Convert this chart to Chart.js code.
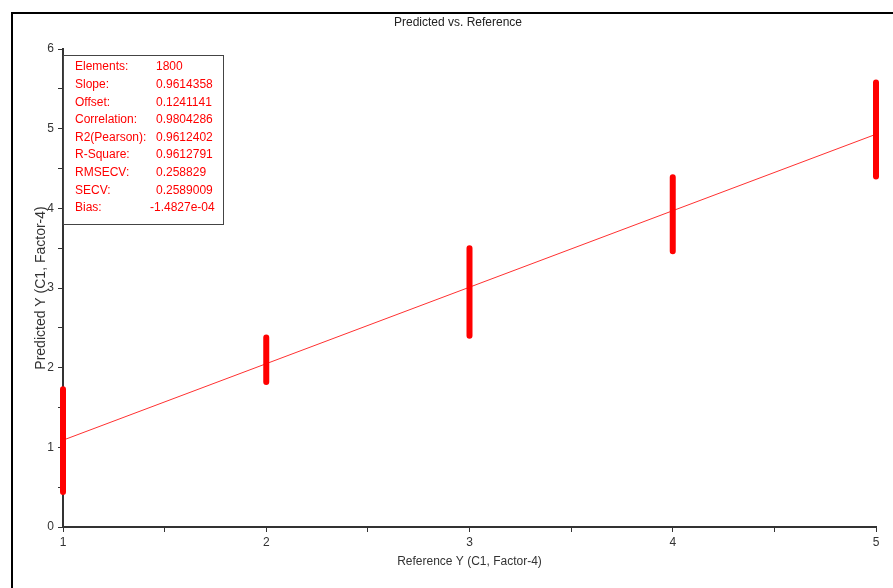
<!DOCTYPE html>
<html>
<head>
<meta charset="utf-8">
<script src="https://cdn.jsdelivr.net/npm/chart.js@4"></script>
<style>
  html, body { margin: 0; padding: 0; background: #fff; }
  #wrap { width: 893px; height: 588px; position: relative; }
</style>
</head>
<body>
<div id="wrap"><canvas id="chart" width="893" height="588"></canvas></div>
<script>
// reference values (x) and the spread of predicted values seen at each one
const refX = [1, 2, 3, 4, 5];
const predMin = [0.44, 1.82, 2.40, 3.46, 4.40];
const predMax = [1.73, 2.38, 3.50, 4.39, 5.58];

// regression line end points
const fitX = [1, 5];
const fitY = [1.09, 4.93];

const statLabels = ["Elements:", "Slope:", "Offset:", "Correlation:", "R2(Pearson):", "R-Square:", "RMSECV:", "SECV:", "Bias:"];
const statValues = ["1800", "0.9614358", "0.1241141", "0.9804286", "0.9612402", "0.9612791", "0.258829", "0.2589009", "-1.4827e-04"];

const chartTitle = "Predicted vs. Reference";

const FONT = "Liberation Sans, Arial, Helvetica, sans-serif";
const AXIS = "#333";

// one segment per reference value, broken with nulls
const columnPoints = [];
refX.forEach((x, i) => {
    columnPoints.push({ x: x, y: predMin[i] });
    columnPoints.push({ x: x, y: predMax[i] });
    columnPoints.push({ x: x, y: null });
});

const framePlugin = {
    id: "frame",
    beforeDraw(chart) {
        const ctx = chart.ctx;
        ctx.save();
        ctx.strokeStyle = "#000";
        ctx.lineWidth = 2;
        ctx.beginPath();
        ctx.moveTo(12, 588);
        ctx.lineTo(12, 13);
        ctx.lineTo(893, 13);
        ctx.stroke();
        ctx.fillStyle = "#222";
        ctx.font = "12px " + FONT;
        ctx.textAlign = "center";
        ctx.textBaseline = "middle";
        ctx.fillText(chartTitle, 458, 23);
        ctx.restore();
    }
};

const statsPlugin = {
    id: "stats",
    afterDraw(chart) {
        const ctx = chart.ctx;
        const left = chart.chartArea.left;
        ctx.save();
        ctx.fillStyle = "#fff";
        ctx.fillRect(left + 1, 55, 159, 169);
        ctx.strokeStyle = "#444";
        ctx.lineWidth = 1;
        ctx.strokeRect(left + 0.5, 55.5, 160, 169);
        ctx.fillStyle = "#ff0000";
        ctx.font = "12px " + FONT;
        ctx.textBaseline = "middle";
        statLabels.forEach((lab, i) => {
            const y = 67 + i * 17.6;
            ctx.fillText(lab, left + 12, y);
            const v = statValues[i];
            ctx.fillText(v, left + (v.startsWith("-") ? 87 : 93), y);
        });
        ctx.restore();
    }
};

new Chart(document.getElementById("chart"), {
    type: "scatter",
    data: {
        datasets: [
            {
                label: "Predicted",
                data: columnPoints,
                showLine: true,
                spanGaps: false,
                clip: false,
                borderColor: "#ff0000",
                borderWidth: 6,
                borderCapStyle: "round",
                pointRadius: 0
            },
            {
                label: "Fit",
                data: fitX.map((x, i) => ({ x: x, y: fitY[i] })),
                showLine: true,
                borderColor: "#ff3030",
                borderWidth: 1,
                pointRadius: 0
            }
        ]
    },
    options: {
        responsive: false,
        animation: false,
        layout: { padding: { left: 0, right: 17, top: 49, bottom: 0 } },
        plugins: {
            legend: { display: false },
            tooltip: { enabled: false },
            title: { display: false }
        },
        scales: {
            x: {
                type: "linear",
                min: 1,
                max: 5,
                afterFit(scale) { scale.height = 61; },
                border: { color: AXIS, width: 2 },
                grid: { drawOnChartArea: false, drawTicks: true, tickLength: 5, tickColor: AXIS },
                ticks: {
                    stepSize: 0.5,
                    autoSkip: false,
                    maxRotation: 0,
                    color: AXIS,
                    padding: 3,
                    font: { family: FONT, size: 12 },
                    callback: v => Number.isInteger(v) ? v : ""
                },
                title: {
                    display: true,
                    text: "Reference Y (C1, Factor-4)",
                    color: AXIS,
                    font: { family: FONT, size: 12 },
                    padding: { top: 0, bottom: 19 }
                }
            },
            y: {
                type: "linear",
                min: 0,
                max: 6,
                afterFit(scale) { scale.width = 63; },
                border: { color: AXIS, width: 2 },
                grid: { drawOnChartArea: false, drawTicks: true, tickLength: 5, tickColor: AXIS },
                ticks: {
                    stepSize: 0.5,
                    autoSkip: false,
                    color: AXIS,
                    padding: 4,
                    font: { family: FONT, size: 12 },
                    callback: v => Number.isInteger(v) ? v : ""
                },
                title: {
                    display: true,
                    text: "Predicted Y (C1, Factor-4)",
                    color: AXIS,
                    font: { family: FONT, size: 14 },
                    padding: { top: 33, bottom: 0 }
                }
            }
        }
    },
    plugins: [framePlugin, statsPlugin]
});
</script>
</body>
</html>
